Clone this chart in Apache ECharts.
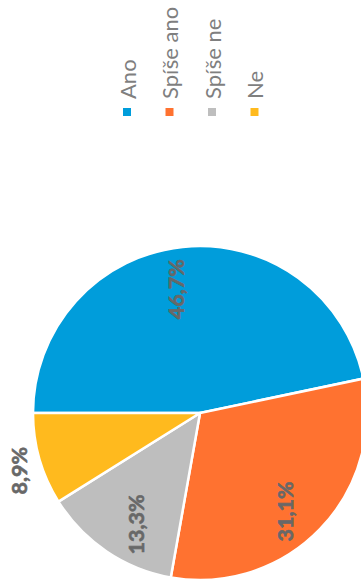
<!DOCTYPE html>
<html>
<head>
<meta charset="utf-8">
<script src="https://cdn.jsdelivr.net/npm/echarts@6/dist/echarts.min.js"></script>
<style>
  html, body { margin: 0; padding: 0; background: #ffffff; overflow: hidden; }
  body { width: 361px; height: 579px; position: relative; }
  /* The chart is laid out landscape and turned a quarter turn counter-clockwise */
  #chart {
    position: absolute; left: 0; top: 0;
    width: 579px; height: 361px;
    transform-origin: 0 0;
    transform: translateY(579px) rotate(-90deg);
  }
</style>
</head>
<body>
<div id="chart"></div>
<script>
// Answer categories and their shares (%)
const categories = ['Ano', 'Spíše ano', 'Spíše ne', 'Ne'];
const shares = [46.7, 31.1, 13.3, 8.9];
const colors = ['#009DDB', '#FF7230', '#BEBEBE', '#FFBA1E'];

// small "best fit" shifts of the inside labels, in px [dx, dy]
const labelShift = [[-4, -11], [-9, -7], [-5, 8], [0, 0]];

const fmt = p => p.value.toFixed(1).replace('.', ',') + '%';
const labelFont = {
  fontFamily: 'Lato', fontWeight: 'bold', fontSize: 21.5, color: '#686868',
  textBorderColor: '#686868', textBorderWidth: 0.6
};

const chart = echarts.init(document.getElementById('chart'), null, { renderer: 'svg' });

const slices = categories.map((name, i) => ({
  name,
  value: shares[i],
  itemStyle: { color: colors[i] },
  // only the smallest slice carries its label outside the pie
  label: { show: name === 'Ne' }
}));

const innerLabels = categories.map((name, i) => ({
  name,
  value: shares[i],
  label: { show: name !== 'Ne' }
}));

chart.setOption({
  animation: false,
  legend: {
    orient: 'vertical',
    left: 461,
    top: 116,
    padding: 0,
    icon: 'rect',
    itemWidth: 10,
    itemHeight: 10,
    itemGap: 20.5,
    selectedMode: false,
    textStyle: {
      fontFamily: 'Lato', fontSize: 22, lineHeight: 22, color: '#7F7F7F',
      padding: [0, 0, 0, 3]
    },
    data: categories.map((name, i) => ({ name, itemStyle: { color: colors[i], opacity: 1 } }))
  },
  series: [
    {
      type: 'pie',
      center: [166, 200],
      radius: 167,
      startAngle: 90,
      clockwise: true,
      avoidLabelOverlap: false,
      itemStyle: { borderColor: '#ffffff', borderWidth: 2.5 },
      label: Object.assign({ position: 'outside', formatter: fmt, distanceToLabelLine: 0 }, labelFont),
      labelLine: { show: false, length: 21, length2: 0 },
      labelLayout: { dx: 18 },
      emphasis: { disabled: true },
      data: slices
    },
    {
      // transparent ring whose inside labels sit at three quarters of the radius
      type: 'pie',
      center: [166, 200],
      radius: [84, 167],
      startAngle: 90,
      clockwise: true,
      silent: true,
      avoidLabelOverlap: false,
      itemStyle: { color: 'rgba(0,0,0,0)', borderWidth: 0 },
      label: Object.assign({ position: 'inside', formatter: fmt }, labelFont),
      labelLine: { show: false },
      labelLayout: p => ({ dx: labelShift[p.dataIndex][0], dy: labelShift[p.dataIndex][1] }),
      emphasis: { disabled: true },
      data: innerLabels
    }
  ]
});
</script>
</body>
</html>
